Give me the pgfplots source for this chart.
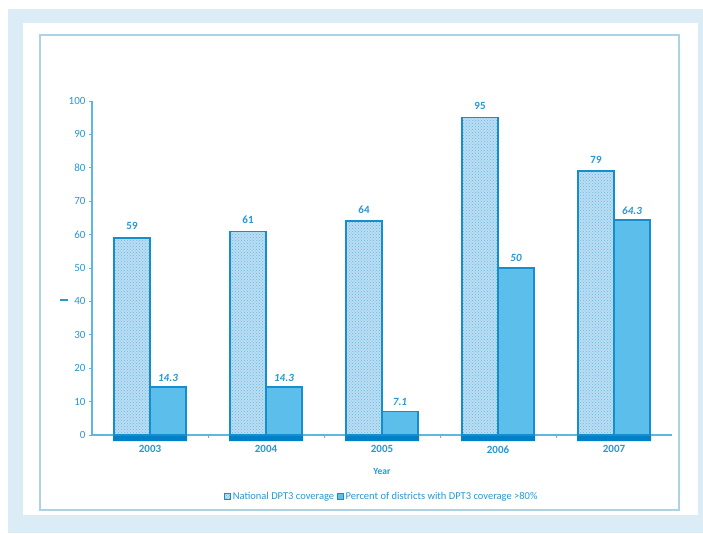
\documentclass[border=0pt]{standalone}
\usepackage{fontspec}
\setmainfont{Carlito}
\usepackage{pgfplots}
\pgfplotsset{compat=1.18}
\usetikzlibrary{patterns}

\definecolor{bgblue}{RGB}{220,236,246}
\definecolor{framecol}{RGB}{170,212,228}
\definecolor{txtblue}{RGB}{38,152,212}
\definecolor{axisblue}{RGB}{95,182,226}
\definecolor{edge}{RGB}{22,142,206}
\definecolor{plate}{RGB}{0,128,198}
\definecolor{barone}{RGB}{186,222,243}
\definecolor{dotcol}{RGB}{110,182,226}
\definecolor{bartwo}{RGB}{92,190,234}

\begin{document}
\begin{tikzpicture}[x=1pt,y=1pt]
\path[use as bounding box] (0,0) rectangle (703,533);
\fill[bgblue] (8,0) rectangle (703,524);
\fill[white] (23,18) rectangle (698,510);
\draw[framecol, line width=1.5pt] (40,23) rectangle (679,498);

\begin{axis}[
  at={(92pt,98pt)}, anchor=south west,
  scale only axis, width=580pt, height=334pt,
  xmin=-0.5, xmax=4.5, ymin=0, ymax=100,
  clip=false,
  axis x line=bottom, axis y line=left,
  axis line style={-, axisblue, line width=1.2pt},
  xtick={0,1,2,3,4},
  xticklabels={2003,2004,2005,2006,2007},
  xticklabel style={font=\fontsize{11}{13}\selectfont\bfseries, text=txtblue, yshift=-4pt},
  major x tick style={draw=none},
  minor xtick={0.5,1.5,2.5,3.5},
  minor tick length=3pt,
  minor x tick style={axisblue, line width=0.8pt},
  ytick={0,10,...,100},
  yticklabel style={font=\fontsize{11}{13}\selectfont, text=txtblue},
  y tick style={axisblue, line width=0.8pt},
  tick align=outside, major tick length=3pt,
  /pgf/number format/assume math mode=true,
  xlabel={Year},
  xlabel style={font=\fontsize{9.5}{11}\selectfont\bfseries, text=txtblue, yshift=-8pt},
  ylabel={\rule{8pt}{1.2pt}},
  ylabel style={at={(rel axis cs:0,0.404)}, anchor=center, rotate=-90,
    xshift=-28pt, text=txtblue},
  legend columns=2,
  legend style={at={(0.5,-0.183)}, anchor=center, draw=none, fill=none,
    font=\fontsize{10.5}{12}\selectfont, text=txtblue, inner sep=0pt,
    /tikz/every even column/.append style={column sep=1pt}},
  legend image code/.code={\draw[#1, line width=0.4pt] (0pt,-3pt) rectangle (6pt,3pt);},
]
% base plates under each year's pair of bars
\addplot[ybar, bar shift=0pt, bar width=74pt, fill=plate, draw=none, forget plot]
  coordinates {(0,-1.8) (1,-1.8) (2,-1.8) (3,-1.8) (4,-1.8)};

% national DPT3 coverage
\addplot[ybar, bar shift=-18pt, bar width=36pt, fill=barone, draw=edge, line width=1.5pt,
  postaction={pattern=crosshatch dots, pattern color=dotcol},
  nodes near coords,
  nodes near coords style={font=\fontsize{11}{13}\selectfont\bfseries, text=txtblue,
    anchor=south, yshift=4pt, xshift=-18pt}]
  coordinates {(0,59) (1,61) (2,64) (3,95) (4,79)};
\addlegendentry{National DPT3 coverage}

% districts with DPT3 coverage above 80%
\addplot[ybar, bar shift=18pt, bar width=36pt, fill=bartwo, draw=edge, line width=1.5pt,
  nodes near coords,
  nodes near coords style={font=\fontsize{11}{13}\selectfont\bfseries\itshape, text=txtblue,
    anchor=south, yshift=2pt, xshift=18pt,
    /pgf/number format/fixed, /pgf/number format/precision=1}]
  coordinates {(0,14.3) (1,14.3) (2,7.1) (3,50) (4,64.3)};
\addlegendentry{Percent of districts with DPT3 coverage >80\%}
\end{axis}
\end{tikzpicture}
\end{document}
